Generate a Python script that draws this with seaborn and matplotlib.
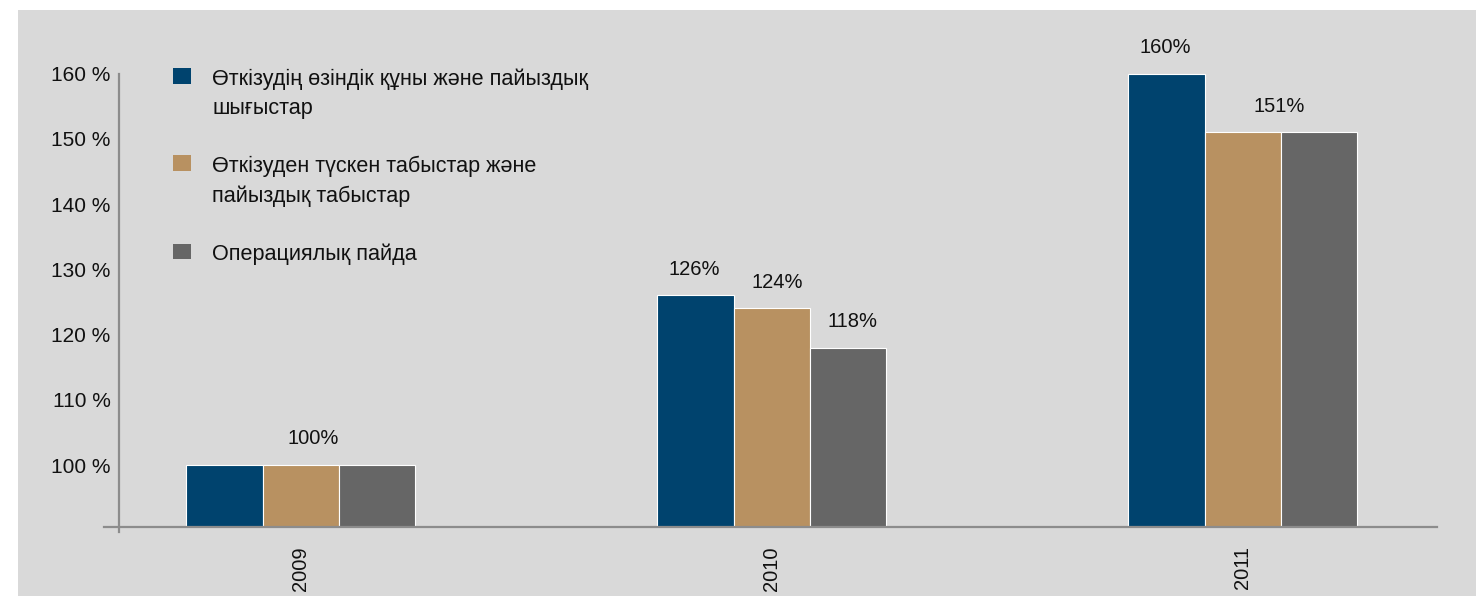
import matplotlib
matplotlib.use("Agg")
import matplotlib.pyplot as plt
from matplotlib.patches import Patch, Rectangle
import pandas as pd
import seaborn as sns

years = ["2009", "2010", "2011"]
series = [
    "Өткізудің өзіндік құны және пайыздық\nшығыстар",
    "Өткізуден түскен табыстар және\nпайыздық табыстар",
    "Операциялық пайда",
]
cost_vals = [100, 126, 160]
revenue_vals = [100, 124, 151]
profit_vals = [100, 118, 151]
colors = ["#00436e", "#b89161", "#666666"]
yticks = [100, 110, 120, 130, 140, 150, 160]

# value labels: (year index, series index, text, horizontal nudge in points)
value_labels = [
    (0, 1, "100%", 9),
    (1, 0, "126%", -1),
    (1, 1, "124%", 4),
    (1, 2, "118%", 3),
    (2, 0, "160%", -1),
    (2, 1, "151%", 26),
]

rows = []
for vals, name in zip([cost_vals, revenue_vals, profit_vals], series):
    for y, v in zip(years, vals):
        rows.append({"year": y, "series": name, "value": v})
df = pd.DataFrame(rows)

sns.set_theme(style="white")
plt.rcParams["font.family"] = ["Liberation Sans", "DejaVu Sans"]

W, H = 1476, 596
fig = plt.figure(figsize=(W / 100, H / 100), dpi=100, facecolor="white")
fig.patches.append(Rectangle((18 / W, 0), 1 - 18 / W, (H - 10) / H,
                             transform=fig.transFigure, facecolor="#d9d9d9",
                             edgecolor="none", zorder=-10))

ax = fig.add_axes([104 / W, (H - 527) / H, (1437 - 104) / W, 486 / H])
ax.set_facecolor("none")

sns.barplot(data=df, x="year", y="value", hue="series", hue_order=series,
            order=years, palette=colors, width=0.486, saturation=1,
            edgecolor="white", linewidth=0.8, legend=False, ax=ax)

ylow = 90.5
ax.set_ylim(ylow, 165)
ax.set_xlim(-0.418, 2.412)
ax.set_yticks(yticks)
ax.set_yticklabels([f"{t} %" for t in yticks])
ax.set_xlabel("")
ax.set_ylabel("")

spine_col = "#8c8c8c"
for s in ["top", "right"]:
    ax.spines[s].set_visible(False)
ax.spines["left"].set_position(("axes", 15 / 1333))
ax.spines["left"].set_bounds(89.7, 160)
for s in ["left", "bottom"]:
    ax.spines[s].set_color(spine_col)
    ax.spines[s].set_linewidth(1.6)

ax.tick_params(axis="y", length=5, width=1.3, color=spine_col,
               labelsize=15, labelcolor="#111111", pad=1, direction="out")
ax.tick_params(axis="x", length=0, labelsize=14.5, labelcolor="#111111",
               pad=14, labelrotation=90)
for lbl in ax.get_xticklabels():
    lbl.set_va("top")

# value labels above bars
containers = ax.containers
for yi, si, txt, dx in value_labels:
    bar = containers[si][yi]
    cx = bar.get_x() + bar.get_width() / 2
    top = bar.get_height()
    ax.annotate(txt, (cx, top), xytext=(dx, 12), textcoords="offset points",
                ha="center", va="bottom", fontsize=14.5, color="#111111")

handles = [Patch(facecolor=c, edgecolor="none") for c in colors]
leg = ax.legend(handles, series, loc="upper left",
                bbox_to_anchor=(173 / W, (H - 68) / H),
                bbox_transform=fig.transFigure, frameon=False,
                fontsize=15.6, handlelength=0.83, handleheight=0.75,
                handletextpad=0.97, labelspacing=1.67, borderpad=0,
                borderaxespad=0)
for t in leg.get_texts():
    t.set_linespacing(1.55)
    t.set_color("#111111")
# put each swatch next to the first line of its label
for col in leg._legend_handle_box.get_children():
    for row in col.get_children():
        row.align = "top"

fig.savefig("out.png", dpi=100, facecolor=fig.get_facecolor())
